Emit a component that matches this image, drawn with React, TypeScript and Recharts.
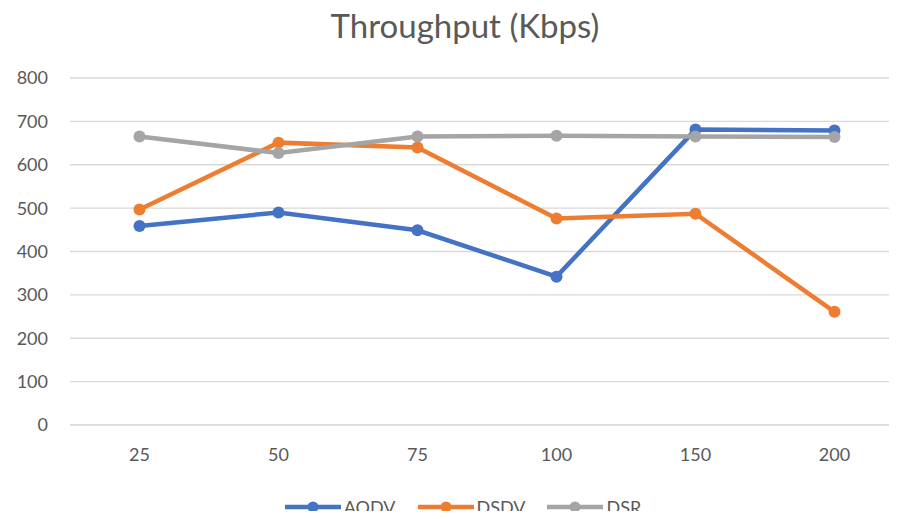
import { LineChart, Line, XAxis, YAxis, CartesianGrid, Legend } from "recharts";

const categories = ["25", "50", "75", "100", "150", "200"];
const aodv = [459, 490, 449, 342, 681, 679];
const dsdv = [497, 651, 640, 476, 487, 261];
const dsr = [665, 627, 665, 667, 665, 664];
const yTicks = [0, 100, 200, 300, 400, 500, 600, 700, 800];

const series = [
  { key: "AODV", color: "#4472C4" },
  { key: "DSDV", color: "#ED7D31" },
  { key: "DSR", color: "#A5A5A5" },
];

const chartData = categories.map((c, i) => ({
  name: c,
  AODV: aodv[i],
  DSDV: dsdv[i],
  DSR: dsr[i],
}));

const font = "Lato, 'Open Sans', sans-serif";

function LegendContent() {
  return (
    <div
      style={{
        display: "flex",
        justifyContent: "center",
        alignItems: "center",
        height: 24,
        lineHeight: "24px",
        gap: 22,
        fontFamily: font,
        fontSize: 18,
        color: "#595959",
        paddingRight: 4,
      }}
    >
      {series.map((s) => (
        <div key={s.key} style={{ display: "flex", alignItems: "center", gap: 3 }}>
          <svg width={56} height={14} style={{ display: "block" }}>
            <line x1={0} y1={7} x2={56} y2={7} stroke={s.color} strokeWidth={4.5} />
            <circle cx={28} cy={7} r={5.5} fill={s.color} />
          </svg>
          <span>{s.key}</span>
        </div>
      ))}
    </div>
  );
}

export default function App() {
  return (
    <div
      style={{
        position: "relative",
        margin: -8,
        width: 897,
        height: 519,
        overflow: "hidden",
        background: "#fff",
      }}
    >
      <div
        style={{
          position: "absolute",
          top: 5,
          left: 0,
          width: 930,
          textAlign: "center",
          fontFamily: font,
          fontSize: 33,
          color: "#595959",
        }}
      >
        Throughput (Kbps)
      </div>
      <LineChart
        width={920}
        height={519}
        data={chartData}
        margin={{ top: 78, right: 0, left: 0, bottom: 0 }}
      >
        <CartesianGrid vertical={false} stroke="#D9D9D9" strokeWidth={1.3} />
        <XAxis
          dataKey="name"
          axisLine={{ stroke: "#D9D9D9" }}
          tickLine={false}
          tickMargin={17}
          height={70}
          padding={{ left: 69.5, right: 85.5 }}
          tick={{ fill: "#595959", fontSize: 18, fontFamily: font }}
        />
        <YAxis
          domain={[0, 800]}
          ticks={yTicks}
          width={70}
          axisLine={false}
          tickLine={false}
          tickMargin={16}
          tick={{ fill: "#595959", fontSize: 18, fontFamily: font }}
        />
        <Legend
          verticalAlign="bottom"
          height={24}
          wrapperStyle={{ bottom: 0, left: 0, width: 930 }}
          content={<LegendContent />}
        />
        {series.map((s) => (
          <Line
            key={s.key}
            type="linear"
            dataKey={s.key}
            stroke={s.color}
            strokeWidth={4.5}
            dot={{ r: 6, fill: s.color, stroke: "none" }}
            activeDot={false}
            isAnimationActive={false}
          />
        ))}
      </LineChart>
    </div>
  );
}
